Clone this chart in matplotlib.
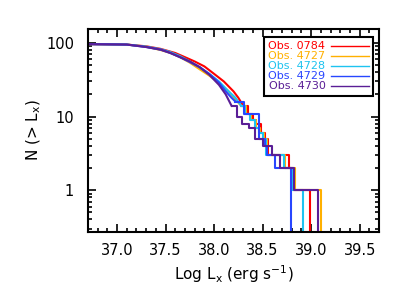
import numpy as np
import matplotlib
matplotlib.use('Agg')
import matplotlib.pyplot as plt
from matplotlib.ticker import MultipleLocator, LogLocator, ScalarFormatter, NullFormatter

# Cumulative luminosity functions, N(>Lx)
L_0784 = [36.5, 37.10, 37.30, 37.45, 37.60, 37.70, 37.80, 37.90, 38.00, 38.10, 38.20, 38.25,
          38.30, 38.35, 38.40, 38.43, 38.48, 38.52, 38.56, 38.77, 38.81, 38.99]
N_0784 = [97, 95, 90, 83, 73, 64, 56, 48, 38, 30, 22, 18, 14, 11, 9, 8, 6, 5, 3, 2, 1, 0]

L_4727 = [36.5, 37.10, 37.30, 37.45, 37.55, 37.65, 37.75, 37.85, 37.95, 38.05, 38.15, 38.22,
          38.28, 38.33, 38.38, 38.43, 38.47, 38.51, 38.55, 38.735, 38.83, 39.106]
N_4727 = [97, 95, 89, 80, 73, 64, 54, 44, 36, 29, 22, 17, 14, 11, 9, 7, 6, 5, 3, 2, 1, 0]

L_4728 = [36.5, 37.10, 37.30, 37.45, 37.55, 37.65, 37.75, 37.85, 37.95, 38.05, 38.15, 38.22,
          38.28, 38.32, 38.37, 38.42, 38.46, 38.50, 38.54, 38.72, 38.80, 38.913]
N_4728 = [97, 95, 89, 82, 75, 66, 56, 47, 38, 30, 22, 18, 14, 11, 9, 7, 6, 5, 3, 2, 1, 0]

L_4729 = [36.5, 37.10, 37.30, 37.45, 37.55, 37.65, 37.75, 37.85, 37.95, 38.05, 38.12, 38.18,
          38.22, 38.305, 38.46, 38.52, 38.55, 38.625, 38.79, 38.797]
N_4729 = [97, 95, 88, 81, 73, 64, 55, 47, 38, 29, 22, 18, 16, 11, 5, 4, 3, 2, 1, 0]

L_4730 = [36.5, 37.10, 37.30, 37.45, 37.55, 37.65, 37.75, 37.85, 37.95, 38.05, 38.12, 38.18,
          38.237, 38.288, 38.357, 38.426, 38.50, 38.598, 38.684, 38.82, 39.072]
N_4730 = [97, 95, 88, 81, 73, 64, 56, 47, 37, 27, 20, 14, 10, 8, 7, 5, 4, 3, 2, 1, 0]

labels = ['Obs. 0784', 'Obs. 4727', 'Obs. 4728', 'Obs. 4729', 'Obs. 4730']
colors = ['#FF0000', '#FFB000', '#1EC3F0', '#2846FF', '#5A1E96']
series = [(L_0784, N_0784), (L_4727, N_4727), (L_4728, N_4728), (L_4729, N_4729), (L_4730, N_4730)]

plt.rcParams['font.family'] = 'DejaVu Sans'
fig = plt.figure(figsize=(4.05, 2.89), dpi=100)
ax = fig.add_axes([0.217, 0.197, 0.719, 0.703])

step_below = 16  # dense part drawn as a line, sparse tail as steps
for (L, N), c, lab in zip(series, colors, labels):
    L = np.array(L)
    N = np.array(N, dtype=float)
    N[N == 0] = 1e-3  # drop to zero goes off the bottom
    k = np.argmax(N <= step_below)
    ax.plot(L[:k + 1], N[:k + 1], color=c, lw=1.5)
    ax.plot(L[k:], N[k:], color=c, lw=1.5, drawstyle='steps-post', label=lab)

ax.set_yscale('log')
ax.set_xlim(36.7, 39.7)
ax.set_ylim(0.27, 155)

ax.xaxis.set_major_locator(MultipleLocator(0.5))
ax.xaxis.set_minor_locator(MultipleLocator(0.1))
ax.xaxis.set_major_formatter(matplotlib.ticker.FormatStrFormatter('%.1f'))
ax.yaxis.set_major_locator(LogLocator(base=10))
ax.yaxis.set_minor_locator(LogLocator(base=10, subs=np.arange(2, 10)))
ax.yaxis.set_major_formatter(ScalarFormatter())
ax.yaxis.set_minor_formatter(NullFormatter())

ax.tick_params(which='both', direction='in', top=True, right=True, width=1.2)
ax.tick_params(which='major', length=6, labelsize=10.5)
ax.tick_params(which='minor', length=3)
ax.tick_params(axis='x', pad=8)
ax.tick_params(axis='y', pad=10)
for s in ax.spines.values():
    s.set_linewidth(1.5)

ax.set_xlabel('Log L$_\\mathregular{x}$ (erg s$^\\mathregular{-1}$)', fontsize=11)
ax.set_ylabel('N (> L$_\\mathregular{x}$)', fontsize=11, labelpad=2)

leg = ax.legend(loc='upper right', bbox_to_anchor=(0.98, 0.96), markerfirst=False,
                labelcolor='linecolor', fontsize=8, frameon=True, fancybox=False,
                edgecolor='black', framealpha=1, labelspacing=0.0, handlelength=3.4,
                handletextpad=0.5, borderpad=0.4, borderaxespad=0)
leg.get_frame().set_linewidth(1.5)
for h in leg.get_lines():
    h.set_linewidth(1.0)

fig.savefig('out.png', dpi=100)
